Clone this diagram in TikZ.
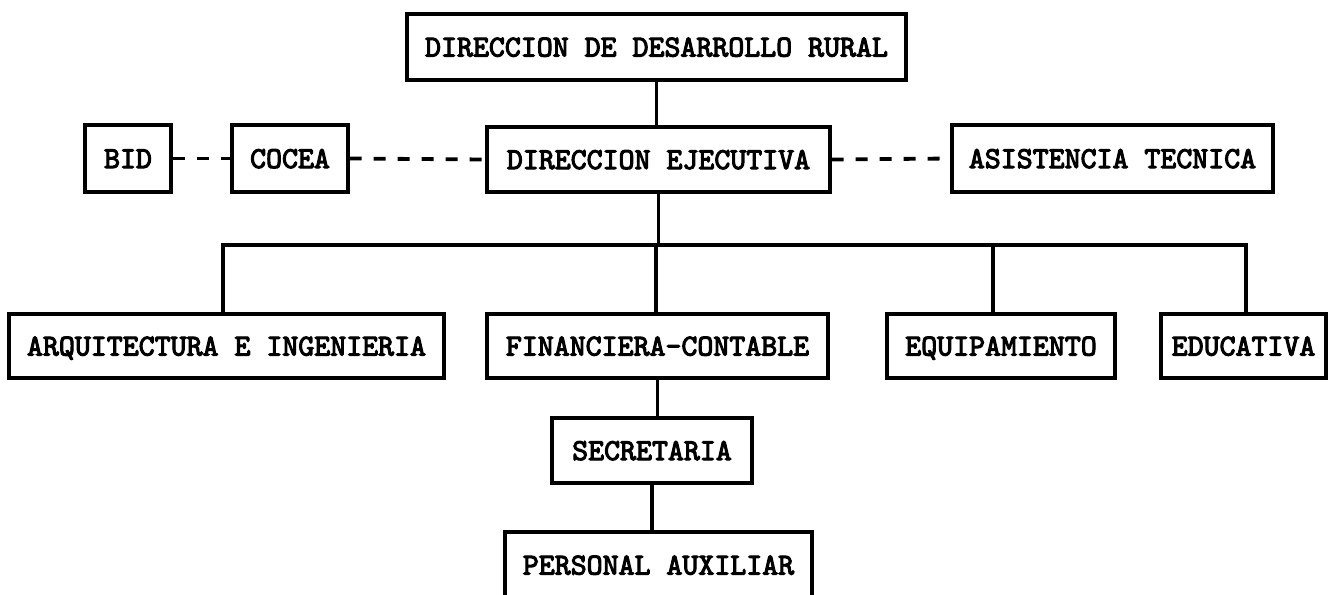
\documentclass[tikz,border=0pt]{standalone}
\usepackage{fontspec}
\newfontfamily\boxfont[FakeBold=3.5]{lmmono10-regular.otf}
\begin{document}
\begin{tikzpicture}[x=0.5pt,y=-0.5pt,
  orgbox/.style={draw=black, line width=1.7pt, fill=white, inner sep=0pt,
    font=\boxfont\fontsize{15.2}{17}\selectfont, text=black,
    text height=10pt, text depth=0.5pt},
  link/.style={draw=black, line width=1.6pt},
  dlink/.style={draw=black, line width=1.9pt, dash pattern=on 6pt off 6pt}]
\useasboundingbox (0,0) rectangle (1332,594);
\fill[white] (0,0) rectangle (1332,594);
% boxes
\node[orgbox, minimum width=249.5pt, minimum height=33pt] (dr) at (656.5,47) {DIRECCION DE DESARROLLO RURAL};
\node[orgbox, minimum width=171.5pt, minimum height=32.5pt] (de) at (658.5,159.5) {DIRECCION EJECUTIVA};
\node[orgbox, minimum width=43pt, minimum height=33.5pt] (bid) at (128,158.5) {BID};
\node[orgbox, minimum width=58pt, minimum height=33.5pt] (cocea) at (290,158.5) {COCEA};
\node[orgbox, minimum width=160.5pt, minimum height=33.5pt] (asis) at (1112.5,158.5) {ASISTENCIA TECNICA};
\node[orgbox, minimum width=217.5pt, minimum height=32pt] (arq) at (226.5,346) {ARQUITECTURA E INGENIERIA};
\node[orgbox, minimum width=170.5pt, minimum height=32pt] (fin) at (657.5,346) {FINANCIERA-CONTABLE};
\node[orgbox, minimum width=114pt, minimum height=32pt] (equip) at (1001,346) {EQUIPAMIENTO};
\node[orgbox, minimum width=82.5pt, minimum height=32pt] (educ) at (1243.5,346) {EDUCATIVA};
\node[orgbox, minimum width=100pt, minimum height=32.5pt] (sec) at (652,450.5) {SECRETARIA};
\node[orgbox, minimum width=153.5pt, minimum height=33pt] (pers) at (658.5,565) {PERSONAL AUXILIAR};
% connectors
\coordinate (bus) at (656,245);
\draw[link] (dr.south) -- (dr.south |- de.north);
\draw[link] (de.south) -- (de.south |- bus);
\draw[link] ([xshift=-1.75pt]arq.north) |- (bus);
\draw[link] (bus) -| ([xshift=-4pt]equip.north);
\draw[link] (bus) -| ([xshift=1.25pt]educ.north);
\draw[link] (bus) -- (bus |- fin.north);
\draw[link] (fin.south) -- (fin.south |- sec.north);
\draw[link] (sec.south) -- (sec.south |- pers.north);
\draw[dlink] (bid.east) -- (cocea.west);
\draw[dlink] (cocea.east) -- (de.west);
\draw[dlink] (de.east) -- (asis.west);
\end{tikzpicture}
\end{document}
